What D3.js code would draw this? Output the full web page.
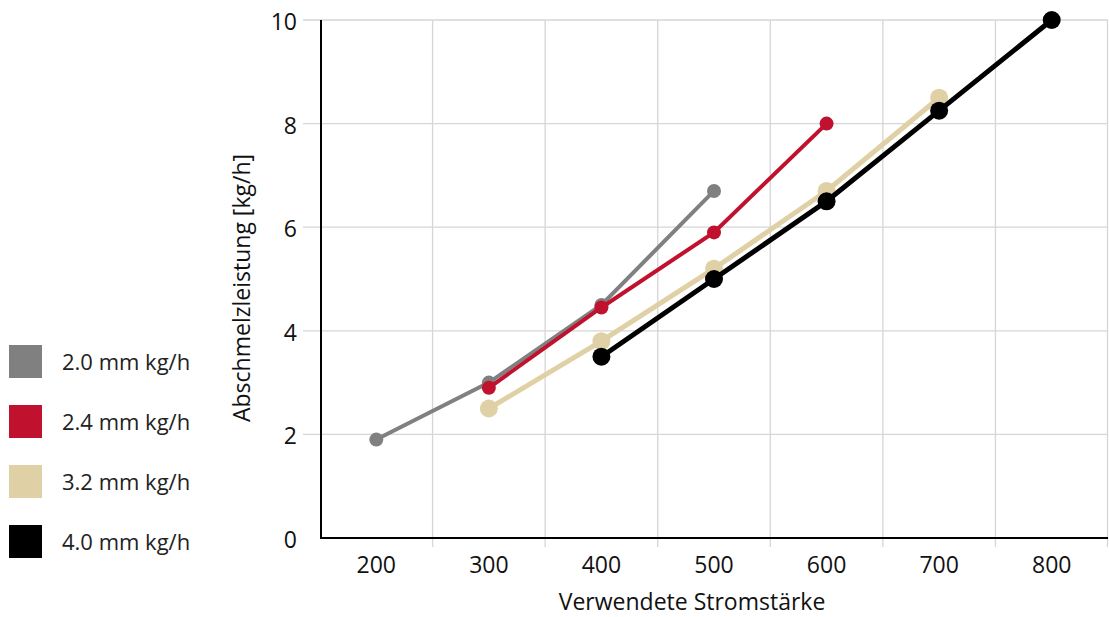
<!DOCTYPE html>
<html>
<head>
<meta charset="utf-8">
<script src="https://cdn.jsdelivr.net/npm/d3@7"></script>
<style>
  body { margin: 0; background: #fff; }
  text { font-family: "Open Sans", sans-serif; fill: #111; }
</style>
</head>
<body>
<svg id="chart" width="1109" height="617"></svg>
<script>
// categories (Stromstärke) and series values (kg/h)
var currents = ["200", "300", "400", "500", "600", "700", "800"];
var yTicks = [0, 2, 4, 6, 8, 10];

var series20 = [["200", 1.9], ["300", 3.0], ["400", 4.5], ["500", 6.7]];
var series24 = [["300", 2.9], ["400", 4.45], ["500", 5.9], ["600", 8.0]];
var series32 = [["300", 2.5], ["400", 3.8], ["500", 5.2], ["600", 6.7], ["700", 8.5]];
var series40 = [["400", 3.5], ["500", 5.0], ["600", 6.5], ["700", 8.25], ["800", 10]];

var seriesNames = ["2.0 mm kg/h", "2.4 mm kg/h", "3.2 mm kg/h", "4.0 mm kg/h"];
var seriesColors = ["#808080", "#c0122e", "#dfd1a5", "#000000"];

var allSeries = [
    { name: seriesNames[0], values: series20, color: seriesColors[0], r: 7, w: 4 },
    { name: seriesNames[1], values: series24, color: seriesColors[1], r: 7, w: 4 },
    { name: seriesNames[2], values: series32, color: seriesColors[2], r: 9, w: 5 },
    { name: seriesNames[3], values: series40, color: seriesColors[3], r: 9, w: 5 }
];

var svg = d3.select("#chart");

var xScale = d3.scaleBand()
    .domain(currents)
    .range([320, 1108])
    .padding(0);

var yScale = d3.scaleLinear()
    .domain([0, 10])
    .range([538, 20]);

// horizontal gridlines (extend a bit left of the axis)
svg.selectAll(".hgrid")
    .data(yTicks.filter(d => d > 0))
    .enter().append("line")
    .attr("class", "hgrid")
    .attr("x1", 303)
    .attr("x2", 1108)
    .attr("y1", d => yScale(d))
    .attr("y2", d => yScale(d))
    .style("stroke", "#d6d6d6")
    .style("stroke-width", 1.3);

// vertical gridlines at band boundaries, with little ticks below the axis
var bounds = currents.slice(1).map(d => xScale(d)).concat([xScale.range()[1] - 0.5]);
svg.selectAll(".vgrid")
    .data(bounds)
    .enter().append("line")
    .attr("class", "vgrid")
    .attr("x1", d => d)
    .attr("x2", d => d)
    .attr("y1", yScale(10))
    .attr("y2", 547)
    .style("stroke", "#d6d6d6")
    .style("stroke-width", 1.3);

// axes lines
svg.append("line")
    .attr("x1", 320).attr("x2", 1108)
    .attr("y1", yScale(0)).attr("y2", yScale(0))
    .style("stroke", "#000").style("stroke-width", 2);
svg.append("line")
    .attr("x1", 321).attr("x2", 321)
    .attr("y1", yScale(10)).attr("y2", yScale(0) + 1)
    .style("stroke", "#000").style("stroke-width", 2);

// y tick labels
svg.selectAll(".ytick")
    .data(yTicks)
    .enter().append("text")
    .attr("class", "ytick")
    .attr("x", 297)
    .attr("y", d => yScale(d) + 2)
    .attr("dy", "0.35em")
    .style("text-anchor", "end")
    .style("font-size", "23px")
    .text(d => d);

// x tick labels
svg.selectAll(".xtick")
    .data(currents)
    .enter().append("text")
    .attr("class", "xtick")
    .attr("x", d => xScale(d) + xScale.bandwidth() / 2)
    .attr("y", 573)
    .style("text-anchor", "middle")
    .style("font-size", "23px")
    .text(d => d);

// axis titles
svg.append("text")
    .attr("x", 692)
    .attr("y", 610)
    .style("text-anchor", "middle")
    .style("font-size", "23px")
    .text("Verwendete Stromstärke");

svg.append("text")
    .attr("transform", "translate(250,288) rotate(-90)")
    .style("text-anchor", "middle")
    .style("font-size", "23px")
    .text("Abschmelzleistung [kg/h]");

// lines and markers
var line = d3.line()
    .x(d => xScale(d[0]) + xScale.bandwidth() / 2)
    .y(d => yScale(d[1]));

allSeries.forEach(function(s) {
    var g = svg.append("g");
    g.append("path")
        .datum(s.values)
        .attr("d", line)
        .style("fill", "none")
        .style("stroke", s.color)
        .style("stroke-width", s.w);
    g.selectAll("circle")
        .data(s.values)
        .enter().append("circle")
        .attr("cx", d => xScale(d[0]) + xScale.bandwidth() / 2)
        .attr("cy", d => yScale(d[1]))
        .attr("r", s.r)
        .style("fill", s.color);
});

// legend
var legend = svg.selectAll(".legend")
    .data(allSeries)
    .enter().append("g")
    .attr("class", "legend")
    .attr("transform", (d, i) => "translate(9," + (345 + i * 60) + ")");

legend.append("rect")
    .attr("width", 33)
    .attr("height", 33)
    .style("fill", d => d.color);

legend.append("text")
    .attr("x", 53)
    .attr("y", 17)
    .attr("dy", "0.35em")
    .style("font-size", "22px")
    .style("fill", "#222")
    .text(d => d.name);
</script>
</body>
</html>
